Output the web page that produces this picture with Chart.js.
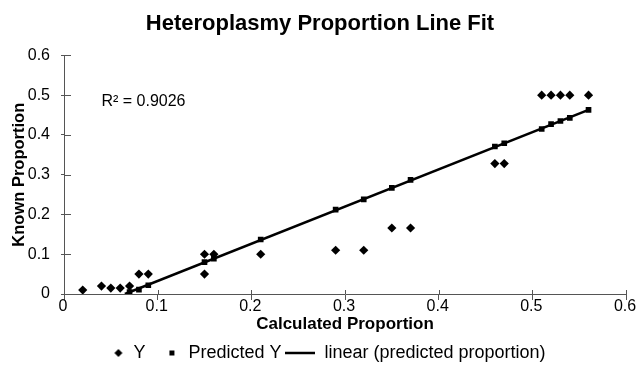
<!DOCTYPE html>
<html>
<head>
<meta charset="utf-8">
<script src="https://cdn.jsdelivr.net/npm/chart.js@4"></script>
<style>
  html, body { margin: 0; padding: 0; background: #fff; }
  #wrap { width: 640px; height: 373px; }
</style>
</head>
<body>
<div id="wrap"><canvas id="myChart"></canvas></div>
<script>
// Données
const calcX = [0.02, 0.04, 0.05, 0.06, 0.07, 0.08, 0.09, 0.15, 0.15, 0.16, 0.21, 0.29, 0.32, 0.35, 0.37, 0.46, 0.47, 0.51, 0.52, 0.53, 0.54, 0.56];
const knownY = [0.01, 0.02, 0.015, 0.015, 0.02, 0.05, 0.05, 0.1, 0.05, 0.1, 0.1, 0.11, 0.11, 0.166, 0.166, 0.328, 0.328, 0.5, 0.5, 0.5, 0.5, 0.5];

const predX = [0.07, 0.08, 0.09, 0.15, 0.16, 0.21, 0.29, 0.32, 0.35, 0.37, 0.46, 0.47, 0.51, 0.52, 0.53, 0.54, 0.56];
const predY = [0.005, 0.011, 0.022, 0.08, 0.089, 0.137, 0.212, 0.238, 0.267, 0.287, 0.371, 0.379, 0.415, 0.427, 0.435, 0.443, 0.463];

const lineX = [0.065, 0.56];
const lineY = [0, 0.463];

const r2Label = 'R² = 0.9026';

const FONT = '"Liberation Sans", Arial, sans-serif';
const AXIS_COLOR = '#555';

const toPoints = (xs, ys) => xs.map((x, i) => ({ x: x, y: ys[i] }));

// Petites images pour les symboles de la légende
function legendIcon(draw) {
    const c = document.createElement('canvas');
    c.width = 30;
    c.height = 12;
    const g = c.getContext('2d');
    g.fillStyle = '#000';
    g.strokeStyle = '#000';
    draw(g);
    return c;
}
const iconDiamond = legendIcon(g => {
    g.beginPath();
    g.moveTo(24, 2); g.lineTo(28, 6); g.lineTo(24, 10); g.lineTo(20, 6);
    g.closePath();
    g.fill();
});
const iconSquare = legendIcon(g => g.fillRect(20, 3.5, 5, 5));
const iconLine = legendIcon(g => {
    g.lineWidth = 2.5;
    g.beginPath();
    g.moveTo(0, 6); g.lineTo(30, 6);
    g.stroke();
});
const legendIcons = [iconDiamond, iconSquare, iconLine];

// Texte R² + graduations qui traversent les axes
const extrasPlugin = {
    id: 'extras',
    afterDraw(chart) {
        const ctx = chart.ctx;
        const xs = chart.scales.x;
        const ys = chart.scales.y;
        const area = chart.chartArea;
        ctx.save();
        ctx.strokeStyle = AXIS_COLOR;
        ctx.lineWidth = 1;
        ctx.beginPath();
        xs.ticks.forEach(t => {
            const px = Math.round(xs.getPixelForValue(t.value)) + 0.5;
            ctx.moveTo(px, area.bottom);
            ctx.lineTo(px, area.bottom - 4);
        });
        ys.ticks.forEach(t => {
            const py = Math.round(ys.getPixelForValue(t.value)) + 0.5;
            ctx.moveTo(area.left, py);
            ctx.lineTo(area.left + 7, py);
        });
        ctx.stroke();

        ctx.font = '16px ' + FONT;
        ctx.fillStyle = '#000';
        ctx.textBaseline = 'middle';
        ctx.textAlign = 'left';
        ctx.fillText(r2Label, xs.getPixelForValue(0.04), ys.getPixelForValue(0.485));
        ctx.restore();
    }
};

const ctx = document.getElementById('myChart').getContext('2d');
const myChart = new Chart(ctx, {
    type: 'scatter',
    data: {
        datasets: [{
            label: 'Y',
            data: toPoints(calcX, knownY),
            pointStyle: 'rectRot',
            pointRadius: 4.6,
            backgroundColor: '#000',
            borderColor: '#000',
            borderWidth: 0,
            order: 1
        }, {
            label: 'Predicted Y',
            data: toPoints(predX, predY),
            pointStyle: 'rect',
            pointRadius: 4,
            backgroundColor: '#000',
            borderColor: '#000',
            borderWidth: 0,
            order: 2
        }, {
            label: 'linear (predicted proportion)',
            type: 'line',
            data: toPoints(lineX, lineY),
            showLine: true,
            borderColor: '#000',
            backgroundColor: '#000',
            borderWidth: 2.6,
            pointRadius: 0,
            order: 3
        }]
    },
    options: {
        responsive: true,
        maintainAspectRatio: false,
        animation: false,
        layout: { padding: { left: 14, right: 14, top: 0, bottom: 1 } },
        plugins: {
            title: {
                display: true,
                text: 'Heteroplasmy Proportion Line Fit',
                color: '#000',
                font: { family: FONT, size: 22, weight: 'bold' },
                padding: { top: 11, bottom: 18 }
            },
            legend: {
                position: 'bottom',
                labels: {
                    usePointStyle: true,
                    pointStyleWidth: 30,
                    boxHeight: 12,
                    color: '#000',
                    padding: 4,
                    font: { family: FONT, size: 18 },
                    generateLabels(chart) {
                        return chart.data.datasets.map((ds, i) => ({
                            text: ds.label,
                            fillStyle: '#000',
                            strokeStyle: '#000',
                            lineWidth: 0,
                            pointStyle: legendIcons[i],
                            datasetIndex: i,
                            fontColor: '#000'
                        }));
                    }
                }
            },
            tooltip: { enabled: false }
        },
        scales: {
            x: {
                type: 'linear',
                min: 0,
                max: 0.6,
                afterFit(scale) { scale.height = 46; },
                ticks: {
                    stepSize: 0.1,
                    color: '#000',
                    labelOffset: -1,
                    font: { family: FONT, size: 16 },
                    padding: -3
                },
                grid: { drawOnChartArea: false, tickLength: 6, color: AXIS_COLOR },
                border: { color: AXIS_COLOR, width: 1 },
                title: {
                    display: true,
                    text: 'Calculated Proportion',
                    color: '#000',
                    font: { family: FONT, size: 17, weight: 'bold' },
                    padding: { top: 0, bottom: 5 }
                }
            },
            y: {
                type: 'linear',
                min: 0,
                max: 0.6,
                afterFit(scale) { scale.width = 50; },
                ticks: {
                    stepSize: 0.1,
                    color: '#000',
                    font: { family: FONT, size: 16 },
                    padding: 11
                },
                grid: { drawOnChartArea: false, tickLength: 3, color: AXIS_COLOR },
                border: { color: AXIS_COLOR, width: 1 },
                title: {
                    display: true,
                    text: 'Known Proportion',
                    color: '#000',
                    font: { family: FONT, size: 16.5, weight: 'bold' },
                    padding: { top: -4, bottom: 0 }
                }
            }
        }
    },
    plugins: [extrasPlugin]
});
</script>
</body>
</html>
